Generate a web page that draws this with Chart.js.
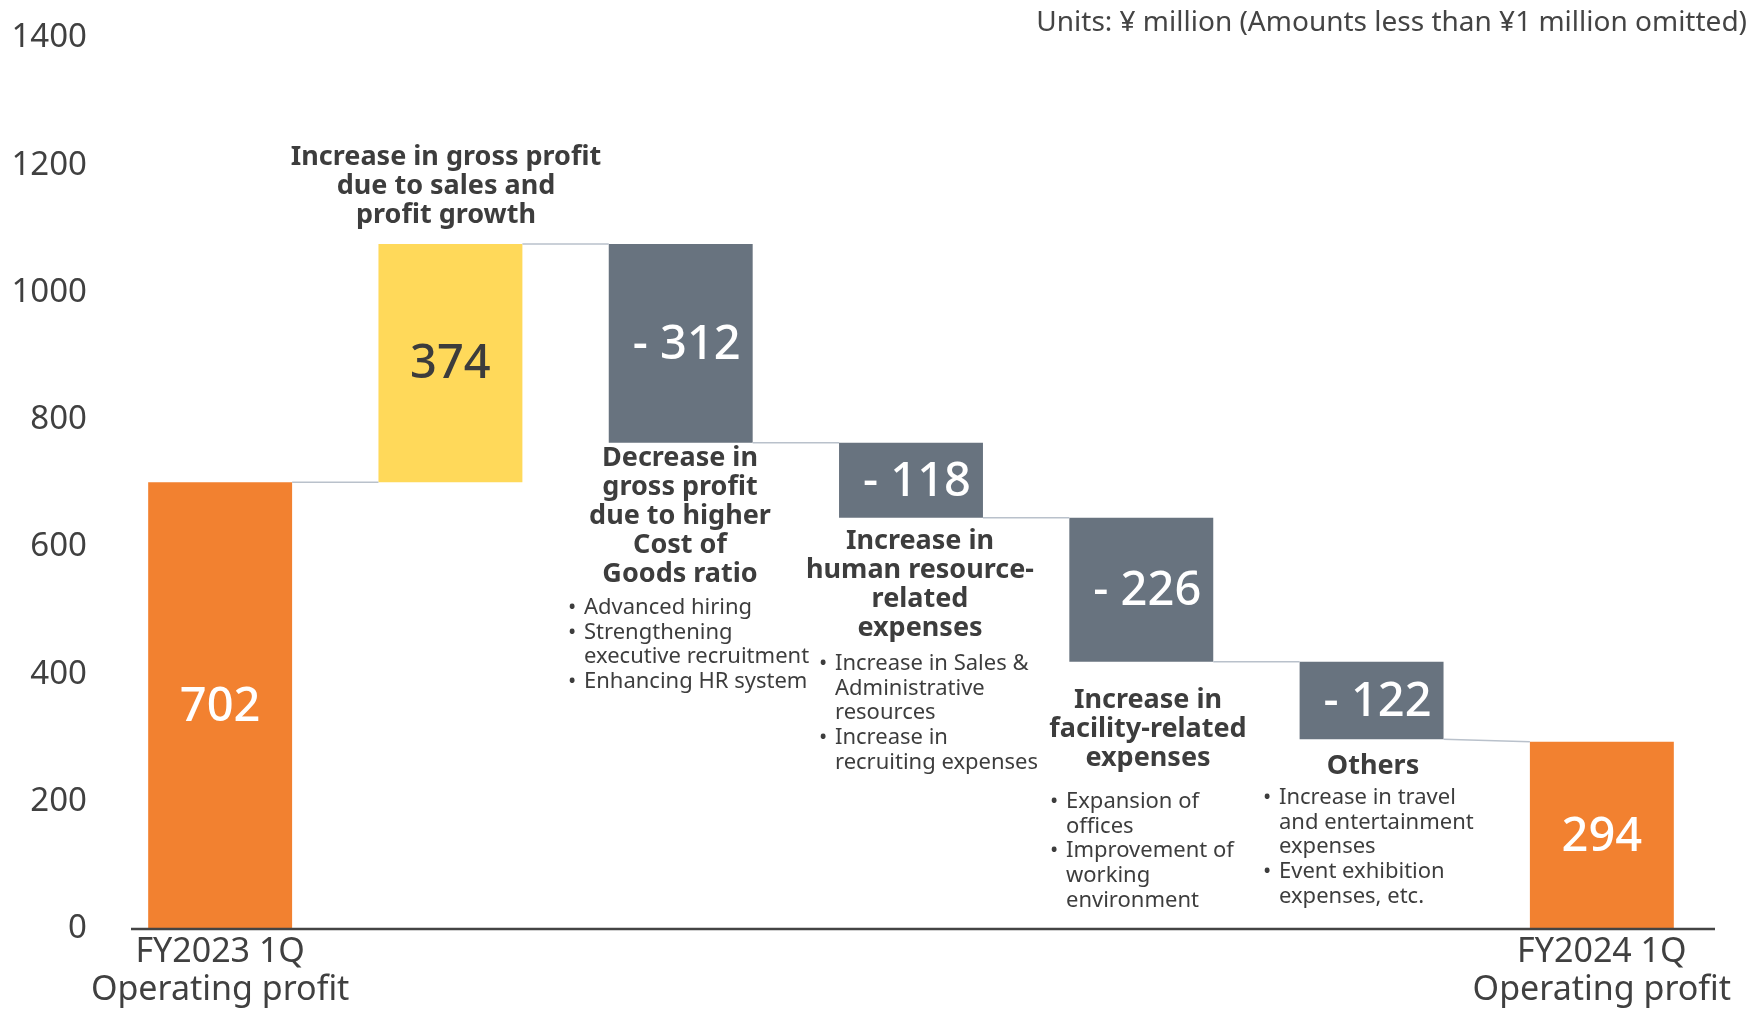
<!DOCTYPE html>
<html>
<head>
<meta charset="utf-8">
<script src="https://cdn.jsdelivr.net/npm/chart.js@4"></script>
<style>
  html, body { margin: 0; padding: 0; background: #fff; }
  #wrap { width: 1750px; height: 1009px; }
</style>
</head>
<body>
<div id="wrap"><canvas id="myChart" width="1750" height="1009"></canvas></div>
<script>
// chart values (¥ million)
const categories = [
  ["FY2023 1Q", "Operating profit"], "", "", "", "", "", ["FY2024 1Q", "Operating profit"]
];
const deltas = [702, 374, -312, -118, -226, -122, 294];
const isTotal = [true, false, false, false, false, false, true];
const yTicks = [0, 200, 400, 600, 800, 1000, 1200, 1400];

const titles = [
  null,
  ["Increase in gross profit", "due to sales and", "profit growth"],
  ["Decrease in", "gross profit", "due to higher", "Cost of", "Goods ratio"],
  ["Increase in", "human resource-", "related", "expenses"],
  ["Increase in", "facility-related", "expenses"],
  ["Others"],
  null
];
const bullets = [
  null,
  null,
  [["Advanced hiring"], ["Strengthening", "executive recruitment"], ["Enhancing HR system"]],
  [["Increase in Sales &", "Administrative", "resources"], ["Increase in", "recruiting expenses"]],
  [["Expansion of", "offices"], ["Improvement of", "working", "environment"]],
  [["Increase in travel", "and entertainment", "expenses"], ["Event exhibition", "expenses, etc."]],
  null
];

const barColors = ["#F28130", "#FFD95A", "#68737F", "#68737F", "#68737F", "#68737F", "#F28130"];
const valueColors = ["#ffffff", "#3c3c3c", "#ffffff", "#ffffff", "#ffffff", "#ffffff", "#ffffff"];

// build floating ranges
let running = 0;
const ranges = [];
const levels = [];
deltas.forEach(function (d, i) {
  if (isTotal[i]) {
    ranges.push([0, d]);
    running = d;
  } else {
    ranges.push([running, running + d]);
    running += d;
  }
  levels.push(running);
});

const FONT = "'Noto Sans', sans-serif";

// text block layout: [title center x, first title line y, bullet x, first bullet line y]
const noteLayout = [
  null,
  [446, 157, 0, 0],
  [680, 458, 569, 608],
  [920, 541, 820, 664],
  [1148, 700, 1051, 802],
  [1373, 766, 1264, 798],
  null
];

const extras = {
  id: "extras",
  afterDatasetsDraw(chart) {
    const ctx = chart.ctx;
    const y = chart.scales.y;
    const meta = chart.getDatasetMeta(0);
    ctx.save();

    // connectors
    ctx.strokeStyle = "#B9C1CB";
    ctx.lineWidth = 1.5;
    for (let i = 0; i < deltas.length - 1; i++) {
      const a = meta.data[i], b = meta.data[i + 1];
      const y1 = y.getPixelForValue(levels[i]);
      const y2 = y.getPixelForValue(isTotal[i + 1] ? deltas[i + 1] : levels[i]);
      ctx.beginPath();
      ctx.moveTo(a.x + a.width / 2, y1);
      ctx.lineTo(b.x - b.width / 2, y2);
      ctx.stroke();
    }

    // baseline
    ctx.strokeStyle = "#444";
    ctx.lineWidth = 2.5;
    ctx.beginPath();
    ctx.moveTo(131, y.getPixelForValue(0));
    ctx.lineTo(1715, y.getPixelForValue(0));
    ctx.stroke();

    // value labels
    ctx.textAlign = "center";
    ctx.textBaseline = "middle";
    meta.data.forEach(function (el, i) {
      const mid = y.getPixelForValue((ranges[i][0] + ranges[i][1]) / 2);
      const txt = deltas[i] < 0 ? "- " + Math.abs(deltas[i]) : String(deltas[i]);
      ctx.fillStyle = valueColors[i];
      ctx.font = "500 47px " + FONT;
      ctx.fillText(txt, el.x + (deltas[i] < 0 ? 6 : 0), mid + 2);
    });

    // notes
    ctx.fillStyle = "#3d3d3d";
    noteLayout.forEach(function (lay, i) {
      if (!lay) return;
      ctx.textAlign = "center";
      ctx.font = "bold 27px " + FONT;
      titles[i].forEach(function (line, k) {
        ctx.fillText(line, lay[0], lay[1] + k * 29);
      });
      if (!bullets[i]) return;
      ctx.textAlign = "left";
      ctx.font = "22px " + FONT;
      let row = 0;
      bullets[i].forEach(function (item) {
        ctx.fillText("•", lay[2] - 1, lay[3] + row * 24.6);
        item.forEach(function (line) {
          ctx.fillText(line, lay[2] + 15, lay[3] + row * 24.6);
          row++;
        });
      });
    });

    // units
    ctx.textAlign = "right";
    ctx.font = "28px " + FONT;
    ctx.fillStyle = "#444";
    ctx.fillText("Units: ¥ million (Amounts less than ¥1 million omitted)", 1747, 23);
    ctx.restore();
  }
};

new Chart(document.getElementById("myChart").getContext("2d"), {
  type: "bar",
  data: {
    labels: categories,
    datasets: [{
      data: ranges,
      backgroundColor: barColors,
      borderWidth: 0,
      categoryPercentage: 1,
      barPercentage: 0.625
    }]
  },
  options: {
    responsive: false,
    animation: false,
    layout: { padding: { top: 28, right: 33, left: 0, bottom: 0 } },
    plugins: { legend: { display: false }, tooltip: { enabled: false }, title: { display: false } },
    scales: {
      x: {
        grid: { display: false, drawTicks: false },
        border: { display: false },
        ticks: { color: "#404040", font: { family: FONT, size: 34, lineHeight: 1.1 }, padding: 5, maxRotation: 0, autoSkip: false },
        afterFit(scale) { scale.height = 80; }
      },
      y: {
        min: 0,
        max: 1400,
        grid: { display: false, drawTicks: false },
        border: { display: false },
        afterBuildTicks(scale) { scale.ticks = yTicks.map(v => ({ value: v })); },
        ticks: { color: "#404040", font: { family: FONT, size: 33 }, padding: 18, callback: v => String(v) },
        afterFit(scale) { scale.width = 105; }
      }
    }
  },
  plugins: [extras]
});
</script>
</body>
</html>
